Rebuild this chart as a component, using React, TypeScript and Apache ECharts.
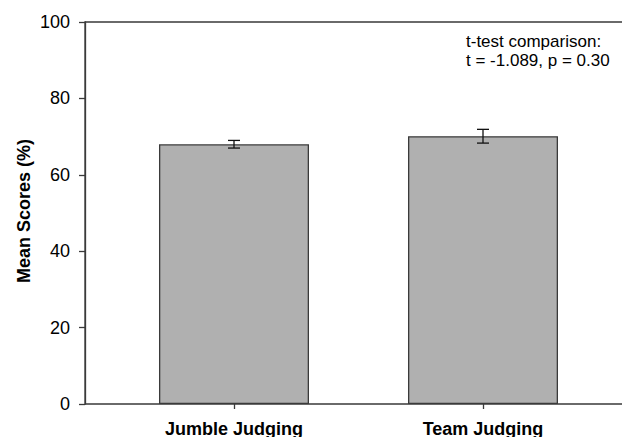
import React, { useEffect, useRef } from "react";
import * as echarts from "echarts";

const categories = ["Jumble Judging", "Team Judging"];
const meanScores = [68.0, 70.1];
const errors = [1.0, 1.8];
const yTicks = [0, 20, 40, 60, 80, 100];
const annotationLines = ["t-test comparison:", "t = -1.089, p = 0.30"];
const yTitle = "Mean Scores (%)";

const FONT = "'Liberation Sans', Arial, Helvetica, sans-serif";
const AXIS = "#3a3a3a";

export default function App() {
  const ref = useRef<HTMLDivElement>(null);
  useEffect(() => {
    if (!ref.current) return;
    const chart = echarts.init(ref.current, null, { renderer: "svg" });
    const errData = categories.map((c, i) => [i, meanScores[i] - errors[i], meanScores[i] + errors[i]]);
    chart.setOption({
      animation: false,
      backgroundColor: "#ffffff",
      textStyle: { fontFamily: FONT },
      grid: [
        {
          left: 85, top: 22, width: 580, height: 382,
          outerBoundsMode: "none", containLabel: false,
          show: true, borderColor: AXIS, borderWidth: 1.3, backgroundColor: "transparent",
        },
        { left: 109.5, top: 22, width: 498, height: 382, outerBoundsMode: "none", containLabel: false },
      ],
      xAxis: [
        { type: "value", gridIndex: 0, min: 0, max: 1, show: false },
        {
          type: "category",
          gridIndex: 1,
          data: categories,
          axisLine: { show: false },
          axisTick: { show: true, alignWithLabel: true, length: 5, lineStyle: { color: AXIS, width: 1.3 } },
          axisLabel: { color: "#000", fontSize: 18, fontWeight: "bold", fontFamily: FONT, margin: 16, interval: 0 },
          splitLine: { show: false },
        },
      ],
      yAxis: [
        {
          type: "value",
          gridIndex: 0,
          min: 0,
          max: 100,
          interval: 20,
          axisLine: { show: true, lineStyle: { color: AXIS, width: 1.3 } },
          axisTick: { show: true, inside: false, length: 6, lineStyle: { color: AXIS, width: 1.3 } },
          axisLabel: {
            color: "#000",
            fontSize: 18,
            fontFamily: FONT,
            margin: 15,
            formatter: (v: number) => (yTicks.includes(v) ? String(v) : ""),
          },
          splitLine: { show: false },
        },
        { type: "value", gridIndex: 1, min: 0, max: 100, show: false },
      ],
      series: [
        {
          type: "bar",
          xAxisIndex: 1,
          yAxisIndex: 1,
          data: meanScores,
          barWidth: 150,
          itemStyle: { color: "#b0b0b0", borderColor: AXIS, borderWidth: 1.3 },
          z: 2,
        },
        {
          type: "custom",
          xAxisIndex: 1,
          yAxisIndex: 1,
          data: errData,
          z: 5,
          renderItem: (params: any, api: any) => {
            const x = api.value(0);
            const lo = api.coord([x, api.value(1)]);
            const hi = api.coord([x, api.value(2)]);
            const w = 6;
            const st = { stroke: "#111", lineWidth: 1.3 };
            return {
              type: "group",
              children: [
                { type: "line", shape: { x1: lo[0], y1: lo[1], x2: hi[0], y2: hi[1] }, style: st },
                { type: "line", shape: { x1: lo[0] - w, y1: lo[1], x2: lo[0] + w, y2: lo[1] }, style: st },
                { type: "line", shape: { x1: hi[0] - w, y1: hi[1], x2: hi[0] + w, y2: hi[1] }, style: st },
              ],
            };
          },
        },
      ],
      graphic: [
        {
          type: "text",
          x: 24,
          y: 211,
          rotation: Math.PI / 2,
          style: {
            text: yTitle,
            font: `bold 18px ${FONT}`,
            fill: "#000",
            textAlign: "center",
            textVerticalAlign: "middle",
          },
        },
        {
          type: "text",
          left: 466,
          top: 32,
          style: {
            text: annotationLines.join("\n"),
            font: `17px ${FONT}`,
            lineHeight: 19,
            fill: "#000",
          },
        },
      ],
    });
    return () => chart.dispose();
  }, []);
  return <div ref={ref} style={{ width: 622, height: 437, position: "absolute", left: 0, top: 0, overflow: "hidden" }} />;
}
